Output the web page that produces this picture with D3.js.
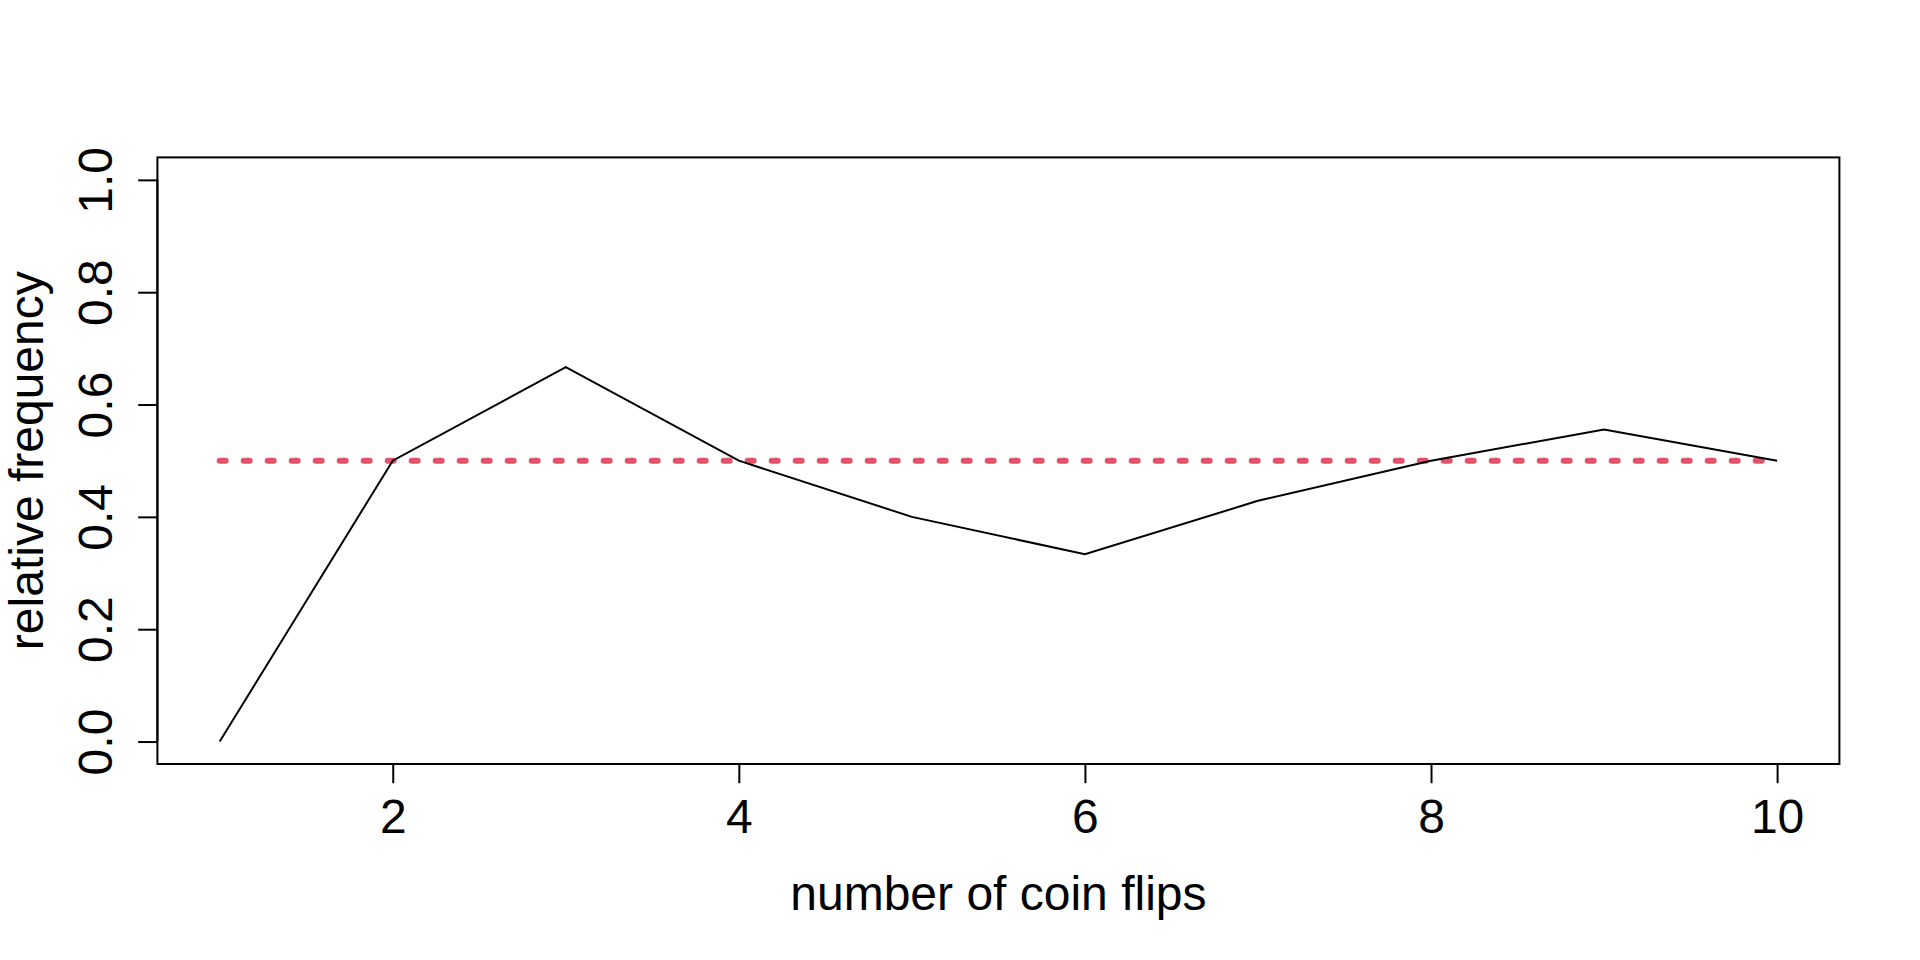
<!DOCTYPE html>
<html><head><meta charset="utf-8">
<script src="https://cdn.jsdelivr.net/npm/d3@7"></script>
<style>
html,body{margin:0;padding:0;background:#fff;}
svg{display:block;}
text{font-family:"Liberation Sans",Arial,Helvetica,sans-serif;fill:#000;}
</style></head>
<body>
<svg id="chart" width="1920" height="960"></svg>
<script>
const flips = [1,2,3,4,5,6,7,8,9,10];
const relFreq = [0, 1/2, 2/3, 1/2, 2/5, 1/3, 3/7, 1/2, 5/9, 1/2];
const refValue = [0.5, 0.5];
const refX = [1, 10];
const xTicks = [2,4,6,8,10];
const yTicks = [0.0,0.2,0.4,0.6,0.8,1.0];
const xTitle = "number of coin flips";
const yTitle = "relative frequency";

const svg = d3.select("#chart");
const L = 157.4, R = 1839.4, T = 157.4, B = 764;
const xs = d3.scaleLinear().domain([1 - 9*0.04, 10 + 9*0.04]).range([L, R]);
const ys = d3.scaleLinear().domain([-0.04, 1.04]).range([B, T]);

// x axis
const xAxis = d3.axisBottom(xs).tickValues(xTicks).tickFormat(d3.format("d")).tickSize(19.2).tickPadding(0);
const gx = svg.append("g").attr("transform", `translate(0,${B})`).call(xAxis);
gx.select(".domain").attr("d", `M${xs(2)},0H${xs(10)}`).attr("stroke","#000").attr("stroke-width",2);
gx.selectAll(".tick line").attr("stroke","#000").attr("stroke-width",2);
gx.selectAll(".tick text").attr("font-size",48).attr("dy",null).attr("y",69)
  .attr("font-family","Liberation Sans, Arial, sans-serif");

// y axis
const yAxis = d3.axisLeft(ys).tickValues(yTicks).tickFormat(d3.format(".1f")).tickSize(19.2).tickPadding(0);
const gy = svg.append("g").attr("transform", `translate(${L},0)`).call(yAxis);
gy.select(".domain").attr("d", `M0,${ys(0)}V${ys(1)}`).attr("stroke","#000").attr("stroke-width",2);
gy.selectAll(".tick line").attr("stroke","#000").attr("stroke-width",2);
gy.selectAll(".tick text").attr("font-size",48).attr("x",null).attr("dy",null)
  .attr("text-anchor","middle")
  .attr("transform", `translate(${112 - L},0) rotate(-90)`)
  .attr("font-family","Liberation Sans, Arial, sans-serif");

// box
svg.append("rect").attr("x",L).attr("y",T).attr("width",R-L).attr("height",B-T)
  .attr("fill","none").attr("stroke","#000").attr("stroke-width",2);

// reference line
svg.append("path")
  .attr("d", d3.line().x((d,i)=>xs(refX[i])).y(d=>ys(d))(refValue))
  .attr("fill","none").attr("stroke","#DF536B").attr("stroke-width",6)
  .attr("stroke-dasharray","6 18").attr("stroke-linecap","round");

// data line
svg.append("path")
  .attr("d", d3.line().x((d,i)=>xs(flips[i])).y(d=>ys(d))(relFreq))
  .attr("fill","none").attr("stroke","#000").attr("stroke-width",2);

// titles
svg.append("text").attr("x",(L+R)/2).attr("y",910).attr("text-anchor","middle")
  .attr("font-size",48).text(xTitle);
svg.append("text").attr("transform",`translate(43,${(T+B)/2}) rotate(-90)`)
  .attr("text-anchor","middle").attr("font-size",48).text(yTitle);
</script>
</body></html>
